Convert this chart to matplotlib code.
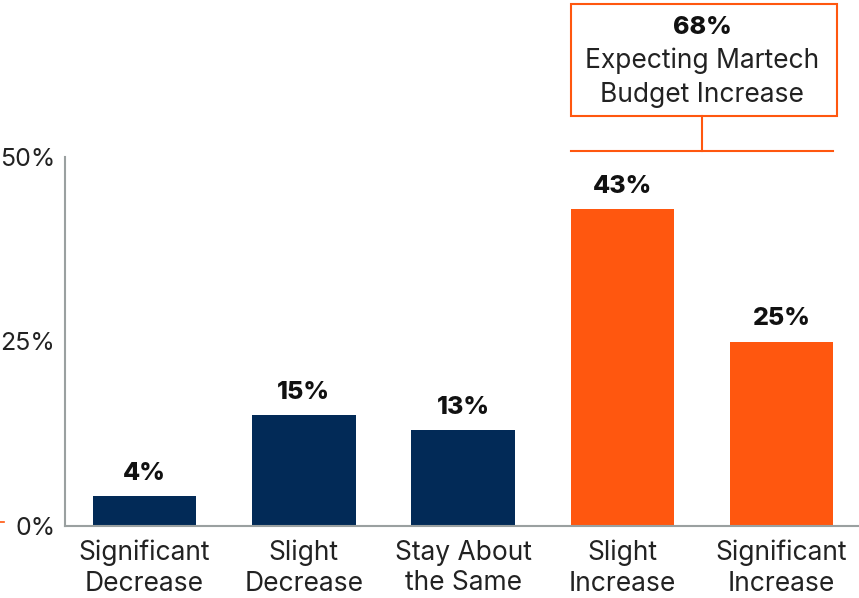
import matplotlib.pyplot as plt
from matplotlib.lines import Line2D
from matplotlib.patches import Rectangle

categories = ["Significant\nDecrease", "Slight\nDecrease", "Stay About\nthe Same",
              "Slight\nIncrease", "Significant\nIncrease"]
values = [4, 15, 13, 43, 25]
increase_total = 68
yticks = [0, 25, 50]

navy = "#022A57"
orange = "#FF570F"
colors = [navy, navy, navy, orange, orange]

plt.rcParams['font.family'] = ['Inter', 'DejaVu Sans']

fig = plt.figure(figsize=(8.59, 5.98), dpi=100)
ax = fig.add_axes([65 / 859, 72 / 598, 793 / 859, 369 / 598])

x = range(len(values))
bw = 0.65
ax.bar(x, values, width=bw, color=colors, zorder=2)

for i, v in enumerate(values):
    ax.annotate(f"{v}%", (i, v), xytext=(0, 8), textcoords="offset points",
                ha="center", va="bottom", fontsize=18, fontweight="heavy", color="#111111")

ax.set_xlim(-0.5, 4.48)
ax.set_ylim(0, 50)
ax.set_yticks(yticks)
ax.set_yticklabels([f"{t}%" for t in yticks], fontsize=18, color="#222222")
ax.set_xticks(list(x))
ax.set_xticklabels(categories, fontsize=19, color="#222222", linespacing=1.22)
ax.tick_params(length=0)
ax.tick_params(axis="y", pad=7)
ax.tick_params(axis="x", pad=10)

for s in ["top", "right"]:
    ax.spines[s].set_visible(False)
for s in ["left", "bottom"]:
    ax.spines[s].set_color("#9AA0A0")
    ax.spines[s].set_linewidth(1.5)

# bracket over the two "increase" bars
left = 3 - bw / 2
right = 4 + bw / 2
ax.add_line(Line2D([left, right], [50.8, 50.8], color=orange, lw=1.5, clip_on=False))
ax.add_line(Line2D([3.5, 3.5], [50.8, 55.6], color=orange, lw=1.5, clip_on=False))
ax.add_patch(Rectangle((left, 55.6), right + 0.02 - left, 15.1, fill=False,
                       edgecolor=orange, lw=1.5, clip_on=False))
ax.text(3.5, 67.6, f"{increase_total}%", ha="center", va="center",
        fontsize=18, fontweight="heavy", color="#111111")
ax.text(3.5, 63.0, "Expecting Martech", ha="center", va="center",
        fontsize=19, color="#222222")
ax.text(3.5, 58.4, "Budget Increase", ha="center", va="center",
        fontsize=19, color="#222222")

# small orange mark at the left edge
fig.add_artist(Line2D([0, 4 / 859], [76 / 598, 76 / 598], color=orange, lw=1.2))

fig.savefig("out.png", dpi=100)
